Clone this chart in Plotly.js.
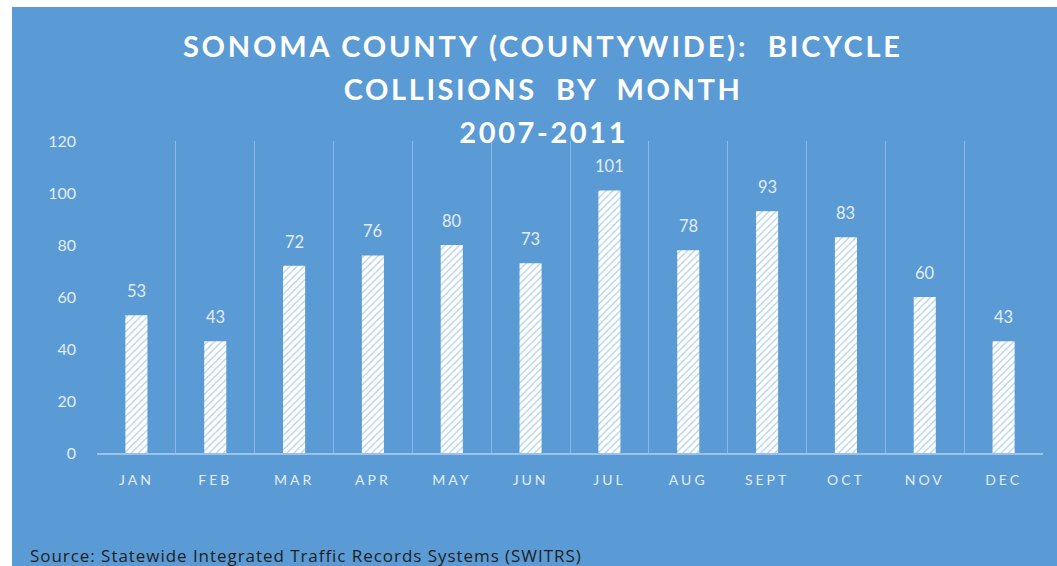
<!DOCTYPE html>
<html>
<head>
<meta charset="utf-8">
<script src="https://cdn.plot.ly/plotly-3.0.1.min.js"></script>
<style>
  html, body { margin: 0; padding: 0; background: #ffffff; }
  #chart { position: absolute; left: 12px; top: 7px; width: 1045px; height: 559px; }
  #chart .xtick text { letter-spacing: 3px; }
  #chart g.annotation[data-index="12"] text,
  #chart g.annotation[data-index="13"] text { letter-spacing: 2.6px; }
  #chart g.annotation[data-index="14"] text { letter-spacing: 0.95px; }
  #chart .gtitle { letter-spacing: 2.8px; }
</style>
</head>
<body>
<div id="chart"></div>
<script>
const months = ["JAN", "FEB", "MAR", "APR", "MAY", "JUN", "JUL", "AUG", "SEPT", "OCT", "NOV", "DEC"];
const collisions = [53, 43, 72, 76, 80, 73, 101, 78, 93, 83, 60, 43];
const yTicks = [0, 20, 40, 60, 80, 100, 120];
const titleLines = ["SONOMA COUNTY (COUNTYWIDE):  BICYCLE", "COLLISIONS  BY  MONTH", "2007-2011"];
const sourceText = "Source: Statewide Integrated Traffic Records Systems (SWITRS)";

const BLUE = "#5b9bd5";
const LIGHT = "#e3ecf7";

const trace = {
  type: "bar",
  x: months,
  y: collisions,
  width: 0.28,
  marker: {
    color: "#ffffff",
    line: { width: 0 },
    pattern: { shape: "/", fgcolor: BLUE, bgcolor: "#ffffff", size: 5, solidity: 0.24, fillmode: "overlay" }
  },
  hoverinfo: "x+y",
  showlegend: false
};

const valueLabels = months.map((m, i) => ({
  x: m, y: collisions[i], xref: "x", yref: "y",
  text: String(collisions[i]), showarrow: false,
  yanchor: "bottom", yshift: 12,
  font: { family: "Lato, 'Open Sans', sans-serif", size: 16.5, color: LIGHT }
}));

const titleY = [1.298, 1.168, 1.032];
const titleAnns = titleLines.slice(1).map((t, i) => ({
  x: 0.4715, xref: "paper", y: titleY[i + 1], yref: "paper",
  text: "<b>" + t + "</b>", showarrow: false, xanchor: "center", yanchor: "middle",
  font: { family: "Lato, 'Open Sans', sans-serif", size: 29, color: "#ffffff" }
}));

const sourceAnn = {
  x: 0.2209, xref: "paper", y: -0.33, yref: "paper",
  text: sourceText, showarrow: false, xanchor: "center", yanchor: "middle",
  font: { family: "'Open Sans', sans-serif", size: 17, color: "#1e1e1e" }
};

const layout = {
  width: 1045, height: 559,
  paper_bgcolor: BLUE, plot_bgcolor: BLUE,
  margin: { l: 85, r: 14, t: 134, b: 113 },
  title: {
    text: "<b>" + titleLines[0] + "</b>",
    x: 0.508, xref: "container", xanchor: "center",
    y: 1 - 40 / 559, yref: "container", yanchor: "middle",
    font: { family: "Lato, 'Open Sans', sans-serif", size: 29, color: "#ffffff" }
  },
  xaxis: {
    type: "category",
    tickson: "boundaries",
    showgrid: true, gridcolor: "#8db8e3", gridwidth: 1,
    showline: true, linecolor: "#9cc2e8", linewidth: 1.5,
    ticks: "", ticklabelstandoff: 14,
    tickfont: { family: "Lato, 'Open Sans', sans-serif", size: 14, color: LIGHT },
    zeroline: false, fixedrange: true
  },
  yaxis: {
    range: [0, 120], tickvals: yTicks, ticktext: yTicks.map(String),
    showgrid: false, zeroline: false, showline: false,
    ticks: "", ticklabelstandoff: 20,
    tickfont: { family: "Lato, 'Open Sans', sans-serif", size: 16, color: LIGHT },
    fixedrange: true
  },
  annotations: valueLabels.concat(titleAnns, [sourceAnn]),
  showlegend: false
};

Plotly.newPlot("chart", [trace], layout, { displayModeBar: false, staticPlot: true });
</script>
</body>
</html>
